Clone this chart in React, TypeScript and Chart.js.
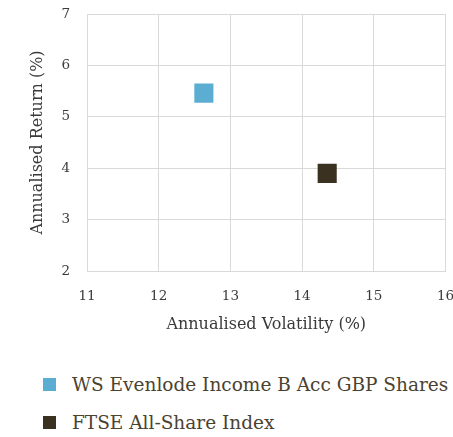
import React, { useEffect, useRef } from "react";
import { Chart, registerables } from "chart.js";

Chart.register(...registerables);

const seriesNames = ["WS Evenlode Income B Acc GBP Shares", "FTSE All-Share Index"];
const volatility = [12.63, 14.35];
const annualReturn = [5.46, 3.9];
const xTicks = [11, 12, 13, 14, 15, 16];
const yTicks = [2, 3, 4, 5, 6, 7];

const seriesColors = ["#5BAED2", "#3A3120"];
const FONT = "'DejaVu Serif', serif";

export default function App() {
  const ref = useRef<HTMLCanvasElement>(null);

  useEffect(() => {
    const ctx = ref.current!;
    const chart = new Chart(ctx, {
      type: "scatter",
      data: {
        datasets: seriesNames.map((name, i) => ({
          label: name,
          data: [{ x: volatility[i], y: annualReturn[i] }],
          pointStyle: "rect",
          pointRadius: 13.5,
          pointHoverRadius: 13.5,
          backgroundColor: seriesColors[i],
          borderColor: seriesColors[i],
          borderWidth: 0,
        })),
      },
      options: {
        animation: false,
        responsive: false,
        maintainAspectRatio: false,
        layout: { padding: { top: 14, right: 2, bottom: 0, left: 0 } },
        plugins: { legend: { display: false }, tooltip: { enabled: false } },
        scales: {
          x: {
            type: "linear",
            min: xTicks[0],
            max: xTicks[xTicks.length - 1],
            afterBuildTicks: (s: any) => {
              s.ticks = xTicks.map((v) => ({ value: v }));
            },
            afterFit: (s: any) => {
              s.height = 74;
              s.paddingLeft = 0;
              s.paddingRight = 0;
            },
            grid: { color: "#d9d9d9", lineWidth: 1, drawTicks: false },
            border: { color: "#d9d9d9" },
            ticks: {
              padding: 17,
              color: "#3a3a3a",
              font: { family: FONT, size: 13.5 },
            },
            title: {
              display: true,
              text: "Annualised Volatility (%)",
              color: "#3a3a3a",
              font: { family: FONT, size: 16 },
              padding: { top: 0, bottom: 11 },
            },
          },
          y: {
            type: "linear",
            min: yTicks[0],
            max: yTicks[yTicks.length - 1],
            afterBuildTicks: (s: any) => {
              s.ticks = yTicks.map((v) => ({ value: v }));
            },
            afterFit: (s: any) => {
              s.width = 87;
              s.paddingTop = 0;
              s.paddingBottom = 0;
            },
            grid: { color: "#d9d9d9", lineWidth: 1, drawTicks: false },
            border: { color: "#d9d9d9" },
            ticks: {
              padding: 17,
              color: "#3a3a3a",
              font: { family: FONT, size: 13.5 },
            },
            title: {
              display: true,
              text: "Annualised Return (%)",
              color: "#3a3a3a",
              font: { family: FONT, size: 16 },
              padding: { top: 28, bottom: 0 },
            },
          },
        },
      },
    });
    return () => chart.destroy();
  }, []);

  return (
    <div style={{ position: "absolute", left: 0, top: 0, width: 453, height: 437, background: "#fff", overflow: "hidden" }}>
      <canvas ref={ref} width={459} height={345} style={{ display: "block", width: 459, height: 345 }} />
      {seriesNames.map((name, i) => (
        <div
          key={name}
          style={{
            position: "absolute",
            left: 43,
            top: i === 0 ? 371 : 409,
            height: 26,
            display: "flex",
            alignItems: "center",
            whiteSpace: "nowrap",
            fontFamily: FONT,
            fontSize: 18.5,
            color: "#4b4230",
          }}
        >
          <span style={{ display: "inline-block", width: 13, height: 13, background: seriesColors[i], marginRight: 16 }} />
          <span>{name}</span>
        </div>
      ))}
    </div>
  );
}
